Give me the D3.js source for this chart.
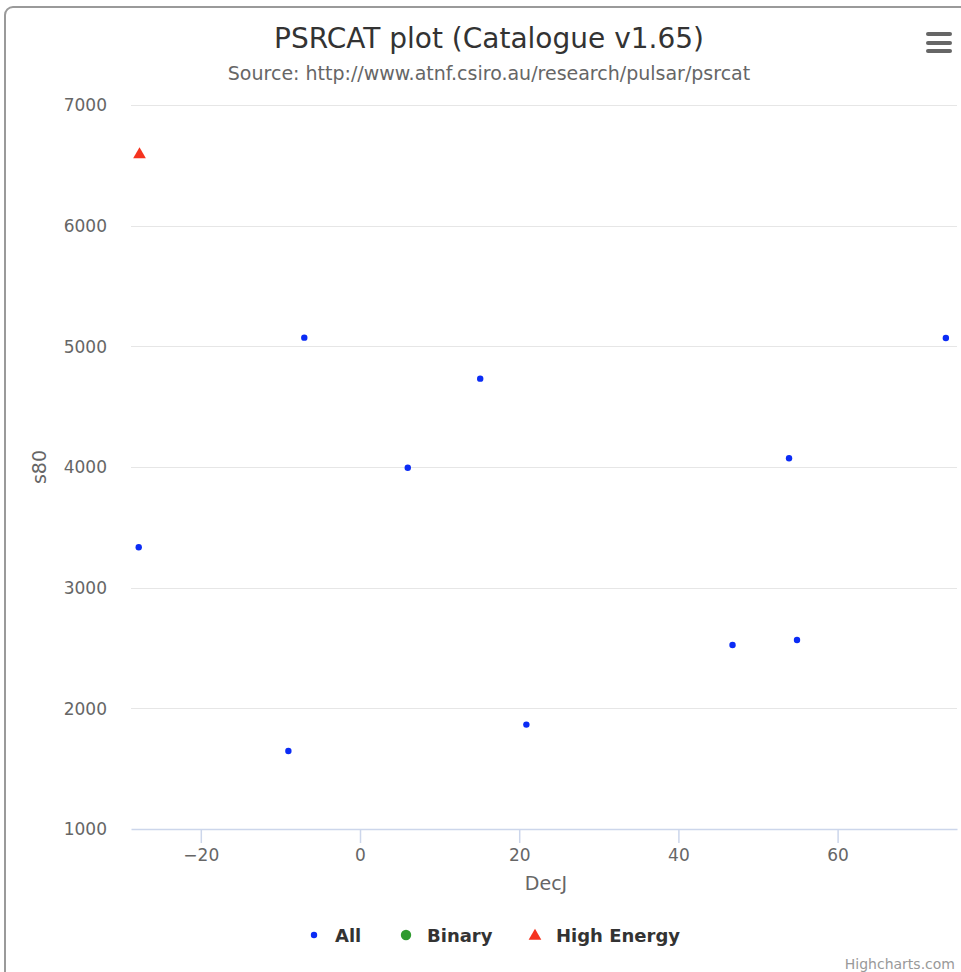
<!DOCTYPE html>
<html>
<head>
<meta charset="utf-8">
<script src="https://cdn.jsdelivr.net/npm/d3@7"></script>
<style>
  html, body { margin: 0; padding: 0; background: #ffffff; }
  svg { display: block; font-family: "DejaVu Sans", "Noto Sans", sans-serif; }
</style>
</head>
<body>
<svg id="chart" width="961" height="972"></svg>
<script>
// Pulsar catalogue sample: declination (DecJ, degrees) against s80 flux
const allDecJ = [-27.8, -9.0, -7.0, 6.0, 15.1, 20.9, 46.8, 53.9, 54.9, 73.6];
const allS80  = [3335, 1646, 5072, 3994, 4732, 1865, 2525, 4072, 2566, 5069];
const binaryDecJ = [];
const binaryS80  = [];
const highEnergyDecJ = [-27.7];
const highEnergyS80  = [6590];

const xTicks = [-20, 0, 20, 40, 60];
const yTicks = [1000, 2000, 3000, 4000, 5000, 6000, 7000];
const xDomain = [-28.77, 75.0];
const yDomain = [1000, 7000];

const seriesNames = ["All", "Binary", "High Energy"];
const seriesColors = ["#0b2cf5", "#2f9a2f", "#f5331f"];

const svg = d3.select("#chart");
const W = 961, H = 972;
const plot = { left: 131, right: 957, top: 105, bottom: 829 };

// outer chart frame
svg.append("rect")
  .attr("x", 5).attr("y", 7)
  .attr("width", W + 20).attr("height", H + 20)
  .attr("rx", 8).attr("ry", 8)
  .attr("fill", "#ffffff")
  .attr("stroke", "#9a9a9a").attr("stroke-width", 2);

const x = d3.scaleLinear().domain(xDomain).range([plot.left, plot.right]);
const y = d3.scaleLinear().domain(yDomain).range([plot.bottom, plot.top]);

// horizontal grid lines
svg.append("g")
  .selectAll("line")
  .data(yTicks.filter(t => t !== yDomain[0]))
  .join("line")
  .attr("x1", plot.left).attr("x2", plot.right)
  .attr("y1", d => Math.round(y(d)) + 0.5).attr("y2", d => Math.round(y(d)) + 0.5)
  .attr("stroke", "#e6e6e6").attr("stroke-width", 1);

// y axis labels
const yAxis = d3.axisLeft(y).tickValues(yTicks).tickSize(0).tickPadding(0).tickFormat(d3.format("d"));
const yG = svg.append("g").attr("transform", `translate(${plot.left - 24},0)`).call(yAxis);
yG.select(".domain").remove();
yG.selectAll("text")
  .attr("font-size", 17).attr("fill", "#666666")
  .attr("font-family", "DejaVu Sans, sans-serif")
  .attr("dy", "0.35em");

// x axis
const xAxis = d3.axisBottom(x).tickValues(xTicks).tickSize(14).tickSizeOuter(0).tickPadding(6)
  .tickFormat(d => d < 0 ? "\u2212" + Math.abs(d) : d);
const xG = svg.append("g").attr("transform", `translate(0,${plot.bottom})`).call(xAxis);
xG.select(".domain").attr("stroke", "#ccd6eb").attr("stroke-width", 1.5);
xG.selectAll(".tick line").attr("stroke", "#ccd6eb").attr("stroke-width", 1.5);
xG.selectAll("text")
  .attr("font-size", 17).attr("fill", "#666666")
  .attr("font-family", "DejaVu Sans, sans-serif");

// axis titles
svg.append("text")
  .attr("x", 546).attr("y", 890)
  .attr("text-anchor", "middle")
  .attr("font-size", 19).attr("fill", "#666666")
  .text("DecJ");

svg.append("text")
  .attr("transform", `translate(46,${(plot.top + plot.bottom) / 2}) rotate(-90)`)
  .attr("text-anchor", "middle")
  .attr("font-size", 19).attr("fill", "#666666")
  .text("s80");

// title and subtitle
svg.append("text")
  .attr("x", 489).attr("y", 48)
  .attr("text-anchor", "middle")
  .attr("font-size", 28).attr("fill", "#333333")
  .text("PSRCAT plot (Catalogue v1.65)");

svg.append("text")
  .attr("x", 489).attr("y", 80)
  .attr("text-anchor", "middle")
  .attr("font-size", 19).attr("fill", "#666666")
  .text("Source: http://www.atnf.csiro.au/research/pulsar/psrcat");

// context menu icon
const menu = svg.append("g");
[34, 43, 51].forEach(yy => {
  menu.append("line")
    .attr("x1", 928).attr("x2", 950).attr("y1", yy).attr("y2", yy)
    .attr("stroke", "#666666").attr("stroke-width", 4).attr("stroke-linecap", "round");
});

// data points
const triangle = d3.symbol().type(d3.symbolTriangle).size(70);

const plotG = svg.append("g");
plotG.selectAll("circle.all")
  .data(d3.zip(allDecJ, allS80))
  .join("circle")
  .attr("class", "all")
  .attr("cx", d => x(d[0])).attr("cy", d => y(d[1]))
  .attr("r", 3.2)
  .attr("fill", seriesColors[0]);

plotG.selectAll("circle.binary")
  .data(d3.zip(binaryDecJ, binaryS80))
  .join("circle")
  .attr("class", "binary")
  .attr("cx", d => x(d[0])).attr("cy", d => y(d[1]))
  .attr("r", 4.5)
  .attr("fill", seriesColors[1]);

plotG.selectAll("path.he")
  .data(d3.zip(highEnergyDecJ, highEnergyS80))
  .join("path")
  .attr("class", "he")
  .attr("d", triangle)
  .attr("transform", d => `translate(${x(d[0])},${y(d[1])})`)
  .attr("fill", seriesColors[2]);

// legend
const legendItems = [
  { name: seriesNames[0], mx: 314, tx: 335, kind: "dot" },
  { name: seriesNames[1], mx: 406, tx: 427, kind: "circle" },
  { name: seriesNames[2], mx: 535, tx: 556, kind: "tri" }
];
const legend = svg.append("g");
legendItems.forEach((item, i) => {
  if (item.kind === "dot") {
    legend.append("circle").attr("cx", item.mx).attr("cy", 935).attr("r", 3.2).attr("fill", seriesColors[i]);
  } else if (item.kind === "circle") {
    legend.append("circle").attr("cx", item.mx).attr("cy", 935).attr("r", 5.2).attr("fill", seriesColors[i]);
  } else {
    legend.append("path").attr("d", triangle).attr("transform", `translate(${item.mx},936)`).attr("fill", seriesColors[i]);
  }
  legend.append("text")
    .attr("x", item.tx).attr("y", 941.5)
    .attr("font-size", 18).attr("font-weight", "bold").attr("fill", "#333333")
    .text(item.name);
});

// credit
svg.append("text")
  .attr("x", 955).attr("y", 969)
  .attr("text-anchor", "end")
  .attr("font-size", 14).attr("fill", "#999999")
  .text("Highcharts.com");
</script>
</body>
</html>
